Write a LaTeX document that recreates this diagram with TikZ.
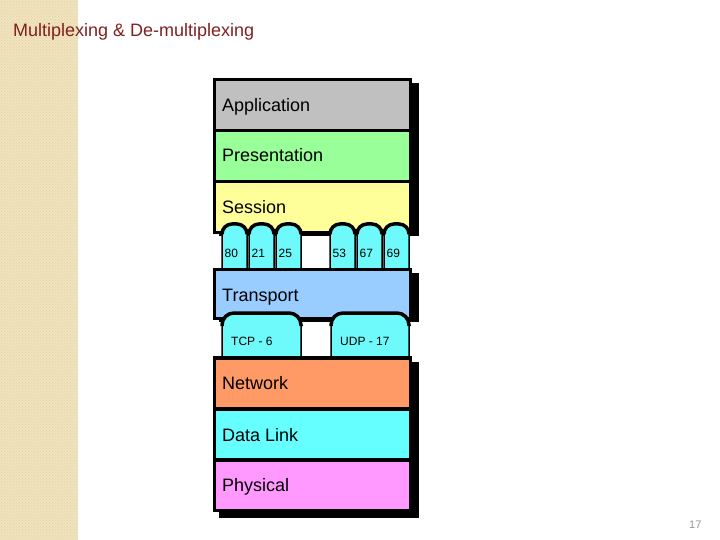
\documentclass[tikz,border=0pt]{standalone}
\usepackage{fontspec}
\setmainfont{Liberation Sans}
\usetikzlibrary{patterns}
\definecolor{stripe}{RGB}{240,227,190}
\definecolor{stripedot}{RGB}{226,208,160}
\definecolor{titlered}{RGB}{128,32,32}
\definecolor{appgray}{RGB}{192,192,192}
\definecolor{presgreen}{RGB}{153,255,153}
\definecolor{sessyellow}{RGB}{255,255,153}
\definecolor{transblue}{RGB}{153,204,255}
\definecolor{netorange}{RGB}{255,153,102}
\definecolor{linkcyan}{RGB}{102,255,255}
\definecolor{physpink}{RGB}{255,153,255}
\definecolor{portcyan}{RGB}{110,250,250}
\definecolor{pagegray}{RGB}{150,150,150}
\begin{document}
\begin{tikzpicture}[x=1pt, y=-1pt,
    layer/.style={draw, line width=3.5pt},
    portcyl/.style={fill=portcyan, draw, line width=1.5pt, rounded corners=10pt},
    protocyl/.style={fill=portcyan, draw, line width=1.5pt, rounded corners=12pt},
    lbl/.style={anchor=base west, inner sep=0pt, font=\fontsize{18}{20}\selectfont},
    portlbl/.style={anchor=base west, inner sep=0pt, font=\fontsize{12}{14}\selectfont},
    protolbl/.style={anchor=base west, inner sep=0pt, font=\fontsize{12}{14}\selectfont}]
    \useasboundingbox (0,0) rectangle (720,540);
    % left stripe, title and page number
    \fill[stripe] (0,0) rectangle (78,540);
    \fill[pattern=crosshatch dots, pattern color=stripedot] (0,0) rectangle (78,540);
    \node[lbl, text=titlered] (title) at (13,37) {Multiplexing \& De-multiplexing};
    \node[anchor=base west, inner sep=0pt, font=\fontsize{11}{12}\selectfont, text=pagegray] (pagenum) at (689,528) {17};
    % shadows
    \fill (219,83) rectangle (419,236);
    \fill (219,273) rectangle (419,322);
    \fill (219,362) rectangle (419,518);
    % Application, Presentation, Session
    \filldraw[layer, fill=appgray] (214.5,79.5) rectangle (410.5,130.5);
    \node[lbl] (app) at (222,111.5) {Application};
    \filldraw[layer, fill=presgreen] (214.5,130.5) rectangle (410.5,181.5);
    \node[lbl] (pres) at (222,162) {Presentation};
    \filldraw[layer, fill=sessyellow] (214.5,181.5) rectangle (410.5,232.5);
    \node[lbl] (sess) at (222,213.5) {Session};
    % ports between Session and Transport
    \foreach \x/\p in {222/80, 249/21, 276/25, 330/53, 357/67, 384/69} {
        \filldraw[portcyl] (\x,269.5) -- (\x,224) -- (\x+25,224) -- (\x+25,269.5);
        \draw[line width=3.5pt, rounded corners=10pt] (\x,234) -- (\x,224) -- (\x+25,224) -- (\x+25,234);
        \node[portlbl] (port\p) at (\x+2.5,257.5) {\p};
    }
    % Transport
    \filldraw[layer, fill=transblue] (214.5,269.5) rectangle (410.5,318.5);
    \node[lbl] (trans) at (222,301.5) {Transport};
    % protocols between Transport and Network
    \foreach \x/\y/\p/\q in {222/301/tcp/TCP - 6, 331/409/udp/UDP - 17} {
        \filldraw[protocyl] (\x,358) -- (\x,313) -- (\y,313) -- (\y,358);
        \draw[line width=3.5pt, rounded corners=12pt] (\x,326) -- (\x,313) -- (\y,313) -- (\y,326);
        \node[protolbl] (\p) at (\x+9,345) {\q};
    }
    % Network, Data Link, Physical
    \filldraw[layer, fill=netorange] (214.5,358) rectangle (410.5,409);
    \node[lbl] (net) at (222,389.5) {Network};
    \filldraw[layer, fill=linkcyan] (214.5,409) rectangle (410.5,460);
    \node[lbl] (link) at (222,441) {Data Link};
    \filldraw[layer, fill=physpink] (214.5,460) rectangle (410.5,510.5);
    \node[lbl] (phys) at (222,491.5) {Physical};
\end{tikzpicture}
\end{document}
